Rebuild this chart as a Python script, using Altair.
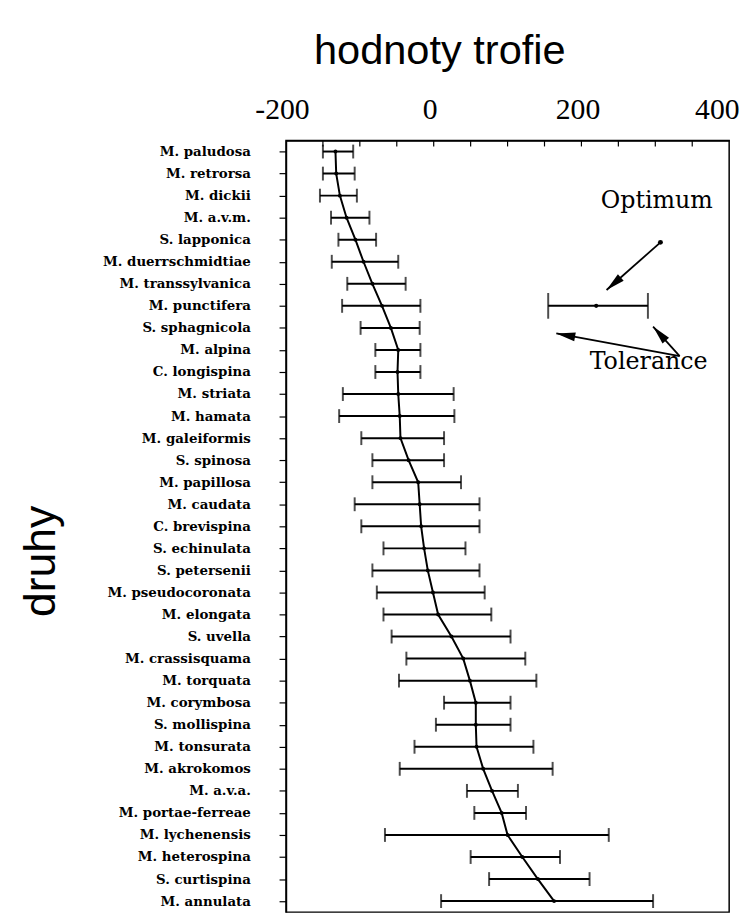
import math
import altair as alt
import pandas as pd

species = [
    "M. paludosa", "M. retrorsa", "M. dickii", "M. a.v.m.", "S. lapponica",
    "M. duerrschmidtiae", "M. transsylvanica", "M. punctifera", "S. sphagnicola",
    "M. alpina", "C. longispina", "M. striata", "M. hamata", "M. galeiformis",
    "S. spinosa", "M. papillosa", "M. caudata", "C. brevispina", "S. echinulata",
    "S. petersenii", "M. pseudocoronata", "M. elongata", "S. uvella",
    "M. crassisquama", "M. torquata", "M. corymbosa", "S. mollispina",
    "M. tonsurata", "M. akrokomos", "M. a.v.a.", "M. portae-ferreae",
    "M. lychenensis", "M. heterospina", "S. curtispina", "M. annulata",
]
tol_low = [-150, -150, -154, -139, -129, -138, -117, -124, -99, -79, -79,
           -123, -128, -98, -83, -83, -107, -98, -68, -83, -77, -68, -57,
           -37, -47, 14, 3, -26, -46, 45, 55, -66, 50, 75, 10]
tol_high = [-109, -107, -104, -87, -78, -48, -38, -18, -19, -18, -18,
            27, 28, 14, 14, 37, 62, 62, 43, 62, 69, 78, 104,
            124, 139, 104, 104, 135, 161, 114, 125, 237, 171, 211, 297]
optimum = [-133, -132, -127, -118, -106, -95, -83, -70, -58, -48, -49,
           -48, -46, -45, -34, -21, -19, -17, -13, -8, -1, 6, 24,
           40, 49, 57, 57, 58, 67, 79, 92, 100, 120, 141, 163]

x_ticks = [-150, -100, -50, 0, 50, 100, 150, 200, 250, 300, 350]
x_labels = [-200, 0, 200, 400]

# legend sample (x in data units, y in row units)
legend_bar = {"low": 155, "high": 290, "opt": 220, "row": 7.0}
arrows = [  # start x, start row, end x, end row
    (307, 4.12, 234, 6.28),
    (333, 9.28, 166, 8.25),
    (333, 9.28, 297, 7.94),
]
labels_txt = ["Optimum", "Tolerance"]
labels_x = [302, 291]
labels_row = [2.55, 9.87]

W, H = 448, 780
n = len(species)
px_x = W / 600.0
px_row = H / n

df = pd.DataFrame({"species": species, "low": tol_low, "high": tol_high,
                   "opt": optimum, "idx": list(range(n))})

xs = alt.Scale(domain=[-200, 400], nice=False, zero=False)
ys = alt.Scale(type="point", padding=0.5, domain=species)
rs = alt.Scale(domain=[-0.5, n - 0.5], reverse=True, nice=False, zero=False)

x_axis = alt.Axis(
    orient="top", values=x_labels, ticks=False, tickSize=0, grid=False,
    labelExpr="'' + datum.value",
    labelFont="Liberation Serif", labelFontSize=30, labelColor="black",
    labelBaseline="alphabetic", labelPadding=22,
    labelAlign={"condition": {"test": "datum.value == 400", "value": "right"}, "value": "center"},
    labelOffset={"condition": {"test": "datum.value == 400", "value": 10},
                 "value": -4},
    domainColor="black", domainWidth=1.5,
    title="hodnoty trofie", titleFont="Liberation Sans", titleFontSize=42,
    titleFontWeight="normal", titleColor="black", titleAlign="center",
    titleBaseline="alphabetic", titleX=155, titleY=-78, titleAngle=0,
)
y_axis = alt.Axis(
    grid=False, labelFont="DejaVu Serif", labelFontSize=13.5, labelFontWeight="bold",
    labelColor="black",
    labelPadding=29, tickSize=7, tickColor="black", tickWidth=1.2,
    domainColor="black", domainWidth=1.5,
    title="druhy", titleFont="Liberation Sans", titleFontSize=45,
    titleFontWeight="normal", titleColor="black", titleAngle=270,
    titleAlign="center", titleBaseline="alphabetic", titleX=-234, titleY=425,
)

base = alt.Chart(df)
bars = base.mark_rule(color="black", strokeWidth=2).encode(
    x=alt.X("low:Q", scale=xs, axis=x_axis),
    x2="high:Q",
    y=alt.Y("species:N", scale=ys, sort=species, axis=y_axis),
)
cap_lo = base.mark_tick(color="black", thickness=2, size=14).encode(
    x=alt.X("low:Q", scale=xs),
    y=alt.Y("species:N", scale=ys, sort=species),
)
cap_hi = base.mark_tick(color="black", thickness=2, size=14).encode(
    x=alt.X("high:Q", scale=xs),
    y=alt.Y("species:N", scale=ys, sort=species),
)
line = base.mark_line(color="black", strokeWidth=2).encode(
    x=alt.X("opt:Q", scale=xs),
    y=alt.Y("species:N", scale=ys, sort=species),
    order="idx:Q",
)
dots = base.mark_point(color="black", filled=True, opacity=1, size=16).encode(
    x=alt.X("opt:Q", scale=xs),
    y=alt.Y("species:N", scale=ys, sort=species),
)
data_layer = alt.layer(bars, cap_lo, cap_hi, line, dots)

# top axis minor ticks pointing inward
tick_df = pd.DataFrame({"t": x_ticks})
top_ticks = alt.Chart(tick_df).mark_rule(color="black", strokeWidth=1.2).encode(
    x=alt.X("t:Q", scale=xs), y=alt.value(0), y2=alt.value(6)
)

# legend sample
leg_df = pd.DataFrame([legend_bar])
leg_bar = alt.Chart(leg_df).mark_rule(color="black", strokeWidth=2).encode(
    x=alt.X("low:Q", scale=xs), x2="high:Q",
    y=alt.Y("row:Q", scale=rs, axis=None),
)
leg_caps_df = pd.DataFrame({"x": [legend_bar["low"], legend_bar["high"]],
                            "row": [legend_bar["row"]] * 2})
leg_caps = alt.Chart(leg_caps_df).mark_tick(color="black", thickness=2, size=26).encode(
    x=alt.X("x:Q", scale=xs), y=alt.Y("row:Q", scale=rs, axis=None),
)
leg_dot = alt.Chart(leg_df).mark_point(color="black", filled=True, opacity=1, size=18).encode(
    x=alt.X("opt:Q", scale=xs), y=alt.Y("row:Q", scale=rs, axis=None),
)

arr_rows = []
for sx, sr, ex, er in arrows:
    dx = (ex - sx) * px_x
    dy = (er - sr) * px_row
    ang = math.degrees(math.atan2(dx, -dy)) % 360
    arr_rows.append({"sx": sx, "sr": sr, "ex": ex, "er": er, "ang": ang})
arr_df = pd.DataFrame(arr_rows)
arr_lines = alt.Chart(arr_df).mark_rule(color="black", strokeWidth=1.8).encode(
    x=alt.X("sx:Q", scale=xs), x2="ex:Q",
    y=alt.Y("sr:Q", scale=rs, axis=None), y2="er:Q",
)
arr_heads = alt.Chart(arr_df).mark_point(
    color="black", filled=True, opacity=1, size=256,
    shape="M0,0L0.55,2.4L-0.55,2.4Z",
).encode(
    x=alt.X("ex:Q", scale=xs),
    y=alt.Y("er:Q", scale=rs, axis=None),
    angle=alt.Angle("ang:Q", scale=None),
)
start_dot = alt.Chart(arr_df.iloc[[0]]).mark_point(color="black", filled=True, opacity=1, size=25).encode(
    x=alt.X("sx:Q", scale=xs), y=alt.Y("sr:Q", scale=rs, axis=None),
)
txt_df = pd.DataFrame({"t": labels_txt, "x": labels_x, "row": labels_row})
txt = alt.Chart(txt_df).mark_text(
    font="DejaVu Serif", fontSize=24, color="black", align="center", baseline="alphabetic"
).encode(
    x=alt.X("x:Q", scale=xs), y=alt.Y("row:Q", scale=rs, axis=None), text="t:N",
)
annot_layer = alt.layer(top_ticks, leg_bar, leg_caps, leg_dot, arr_lines, arr_heads, start_dot, txt)

chart = alt.layer(data_layer, annot_layer).resolve_scale(y="independent").properties(
    width=W, height=H,
    background="white",
    autosize=alt.AutoSizeParams(type="none"),
    padding={"left": 281, "top": 129, "right": 15, "bottom": 3},
).configure_view(stroke="black", strokeWidth=1.5)

chart.save("out.html", embed_options={"renderer": "svg", "actions": False})
